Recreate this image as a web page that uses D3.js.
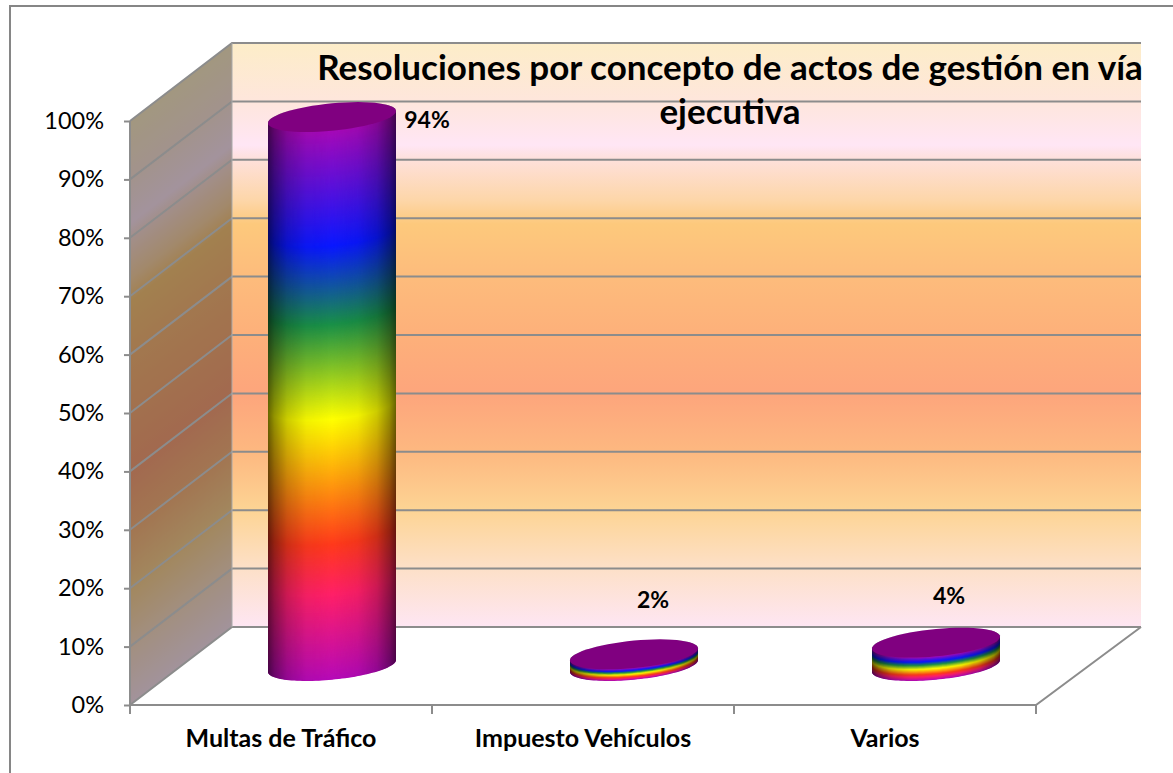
<!DOCTYPE html>
<meta charset="utf-8">
<title>Resoluciones por concepto</title>
<script src="https://d3js.org/d3.v7.min.js"></script>
<style>
  html, body { margin: 0; background: #fff; }
  text { font-family: Lato, "Open Sans", sans-serif; fill: #000; }
</style>
<body>
<script>

// chart data
var categories = ["Multas de Tráfico", "Impuesto Vehículos", "Varios"];
var values = [0.94, 0.02, 0.04];
var valueLabels = ["94%", "2%", "4%"];
var yTicks = [0, 0.1, 0.2, 0.3, 0.4, 0.5, 0.6, 0.7, 0.8, 0.9, 1];
var titleLines = ["Resoluciones por concepto de actos de gestión en vía", "ejecutiva"];

var w = 1173, h = 773;

var svg = d3.select("body").append("svg")
  .attr("width", w)
  .attr("height", h)
  .style("display", "block");

// front plane scales; the back wall sits up and to the right of them
var x = d3.scaleBand().domain(categories).range([130, 1036]);
var y = d3.scaleLinear().domain([0, 1]).range([705, 121]);
var depthX = 102, depthY = -78;
var backRight = 1141;

var defs = svg.append("defs");

// background gradient of the walls
var wallStops = [
  [0, "#fdedc8"], [0.1, "#fee6dc"], [0.175, "#ffe6f5"], [0.2, "#fee0da"], [0.27, "#fdd6a8"],
  [0.31, "#fdc97c"], [0.39, "#fdbd7c"], [0.5, "#fdb07a"], [0.6, "#fda57c"], [0.7, "#fdb880"],
  [0.8, "#fdd494"], [0.9, "#fde0c8"], [1, "#fee6f3"]
];
function addStops(g, stops) {
  g.selectAll("stop").data(stops).enter().append("stop")
    .attr("offset", function(d) { return d[0]; })
    .attr("stop-color", function(d) { return d[1]; })
    .attr("stop-opacity", function(d) { return d[2] === undefined ? 1 : d[2]; });
}
var yTop = y(1) + depthY, yBot = y(0) + depthY;
addStops(defs.append("linearGradient").attr("id", "backWall")
  .attr("gradientUnits", "userSpaceOnUse")
  .attr("x1", 0).attr("x2", 0).attr("y1", yTop).attr("y2", yBot), wallStops);

// same colours on the side wall, sheared along the depth
var skew = Math.atan(depthY / depthX) * 180 / Math.PI;
var bx = x.range()[0] + depthX;
addStops(defs.append("linearGradient").attr("id", "sideWall")
  .attr("gradientUnits", "userSpaceOnUse")
  .attr("x1", bx).attr("x2", bx).attr("y1", yTop).attr("y2", yBot)
  .attr("gradientTransform", "translate(" + bx + ",0) skewY(" + skew + ") translate(" + (-bx) + ",0)"), wallStops);

// rainbow of the bars, bottom to top of each bar
var rainbow = d3.scaleLinear()
  .domain([0, 0.155, 0.246, 0.474, 0.647, 0.79, 1])
  .range(["#b60ab8", "#ff2068", "#ff3a1c", "#ffff00", "#1a9048", "#0a18ff", "#a60ab8"]);
addStops(defs.append("linearGradient").attr("id", "shade")
  .attr("x1", 0).attr("x2", 1).attr("y1", 0).attr("y2", 0), [
    [0, "#000", 0.6], [0.05, "#000", 0.42], [0.15, "#000", 0.2], [0.3, "#000", 0.05], [0.5, "#000", 0],
    [0.7, "#000", 0.05], [0.85, "#000", 0.2], [0.95, "#000", 0.42], [1, "#000", 0.6]
  ]);

// walls
var line = d3.line();
function poly(pts) { return line(pts) + "Z"; }
var left = x.range()[0], right = x.range()[1];

svg.append("path")
  .attr("d", poly([[bx, yTop], [backRight, yTop], [backRight, yBot], [bx, yBot]]))
  .attr("fill", "url(#backWall)");
var sidePts = [[left, y(1)], [bx, yTop], [bx, yBot], [left, y(0)]];
svg.append("path").attr("d", poly(sidePts)).attr("fill", "url(#sideWall)");
svg.append("path").attr("d", poly(sidePts)).attr("fill", "#000").attr("fill-opacity", 0.36);

// gridlines, side wall then back wall
var grid = svg.append("g").attr("stroke", "#8c8c8c").attr("stroke-width", 2).attr("fill", "none");
yTicks.forEach(function(t) {
  grid.append("path").attr("d", line([[left, y(t)], [bx, y(t) + depthY], [backRight, y(t) + depthY]]));
});
// floor edges
grid.append("path").attr("d", line([[backRight, y(0) + depthY], [right, y(0)], [left, y(0)]]));
grid.append("path").attr("d", line([[left, y(1)], [left, y(0)]]));
grid.append("path").attr("d", line([[bx, yTop], [bx, yBot]])).attr("stroke-width", 1).attr("stroke", "#aaa");

// axes
var yAxis = svg.append("g")
  .attr("transform", "translate(" + left + ",0)")
  .call(d3.axisLeft(y).tickValues(yTicks).tickFormat(d3.format(".0%")).tickSize(6).tickPadding(20));
var xAxis = svg.append("g")
  .attr("transform", "translate(0," + y(0) + ")")
  .call(d3.axisBottom(x).tickSize(0).tickPadding(24));
yAxis.select(".domain").remove();
xAxis.select(".domain").remove();
yAxis.selectAll("line").attr("stroke", "#8c8c8c").attr("stroke-width", 2);
yAxis.selectAll("text").attr("font-size", 23.5);
xAxis.selectAll("text").attr("font-size", 25).attr("font-weight", 700);

// x tick marks sit on the band edges
svg.append("g").selectAll("line")
  .data(d3.range(categories.length + 1))
  .enter().append("line")
    .attr("x1", function(i) { return left + i * x.step(); })
    .attr("x2", function(i) { return left + i * x.step(); })
    .attr("y1", y(0)).attr("y2", y(0) + 9)
    .attr("stroke", "#8c8c8c").attr("stroke-width", 2);

// cylinders: sheared ellipses standing half way into the floor
var rx = 64, ry = 13.7, tilt = 6;
var unit = y(0) - y(1);
var base = y(0) + depthY / 2;
function cx(d) { return x(d) + x.bandwidth() / 2 + depthX / 2; }
function ring(c, cyy, a0, a1) {
  return d3.range(0, 61).map(function(i) {
    var t = a0 + (a1 - a0) * i / 60;
    return [c + rx * Math.cos(t), cyy + ry * Math.sin(t) - tilt * Math.cos(t)];
  });
}
var bars = svg.append("g").selectAll("g")
  .data(categories)
  .enter().append("g");

// the side is a stack of thin rings so the colour bands follow the curve
bars.each(function(d, i) {
  var g = d3.select(this), c = cx(d), height = values[i] * unit;
  var n = Math.ceil(height * 2);
  g.selectAll("path.slice")
    .data(d3.range(n + 1))
    .enter().append("path")
      .attr("class", "slice")
      .attr("d", function(k) { return line(ring(c, base - height * k / n, 0, Math.PI)) + "Z"; })
      .attr("fill", function(k) { return rainbow(k / n); });
  // shading over the whole side
  g.append("path")
    .attr("d", line(ring(c, base, Math.PI, 0).concat(ring(c, base - height, 0, -Math.PI))) + "Z")
    .attr("fill", "url(#shade)");
  g.append("path")
    .attr("d", line(ring(c, base - height, 0, 2 * Math.PI)) + "Z")
    .attr("fill", "#800080");
});

// data labels
var labelOffset = [[95, 11], [19, -46], [13, -39]];
svg.append("g").selectAll("text")
  .data(valueLabels)
  .enter().append("text")
    .attr("x", function(d, i) { return cx(categories[i]) + labelOffset[i][0]; })
    .attr("y", function(d, i) { return base - values[i] * unit + labelOffset[i][1]; })
    .attr("text-anchor", "middle")
    .attr("font-size", 23)
    .attr("font-weight", 700)
    .text(function(d) { return d; });

// title
svg.append("g").selectAll("text")
  .data(titleLines)
  .enter().append("text")
    .attr("x", 730)
    .attr("y", function(d, i) { return 80 + i * 44; })
    .attr("text-anchor", "middle")
    .attr("font-size", 35)
    .attr("font-weight", 700)
    .text(function(d) { return d; });

// chart area border, runs off the page right and below
svg.append("rect")
  .attr("x", 10).attr("y", 6)
  .attr("width", w).attr("height", h)
  .attr("fill", "none")
  .attr("stroke", "#868686")
  .attr("stroke-width", 2);

</script>
</body>
